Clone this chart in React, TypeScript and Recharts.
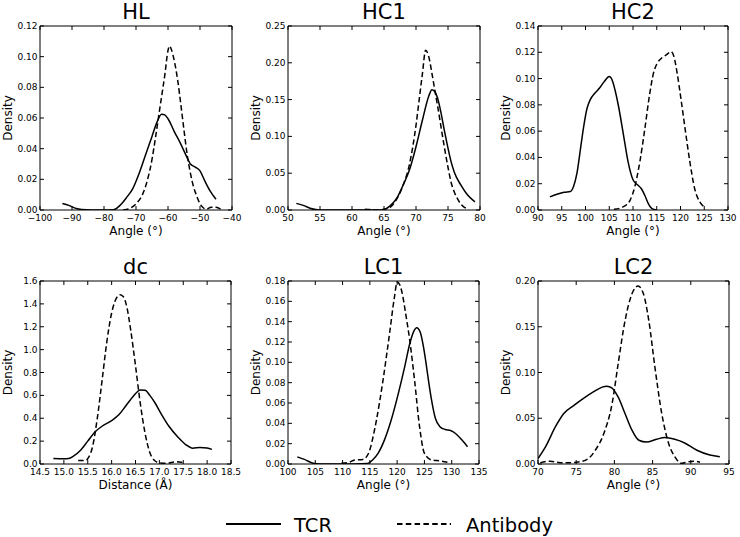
import React from 'react';
import { LineChart, Line, XAxis, YAxis, ReferenceArea } from 'recharts';

type Pt = [number, number];

// HL
const HL_TCR: Pt[] = [
  [-93, 0.0043], [-91, 0.003], [-89, 0.0012], [-87, 0.0003], [-84, 0], [-80, 0], [-77, 0.0002],
  [-75, 0.003], [-73, 0.008], [-71, 0.014], [-69, 0.024], [-67, 0.036], [-65, 0.048], [-63.5, 0.057],
  [-62, 0.0625], [-61, 0.062], [-60, 0.0595], [-58, 0.051], [-56, 0.043], [-54, 0.034], [-53, 0.03],
  [-51.5, 0.028], [-50, 0.0255], [-48.5, 0.019], [-47, 0.013], [-45, 0.007],
];
const HL_AB: Pt[] = [
  [-74, 0], [-72, 0.001], [-70, 0.004], [-68, 0.01], [-66.5, 0.019], [-65, 0.033], [-64, 0.046],
  [-63, 0.06], [-62, 0.074], [-61, 0.088], [-60, 0.104], [-59.5, 0.107], [-59, 0.105], [-58, 0.097],
  [-57, 0.085], [-56, 0.069], [-55, 0.052], [-54, 0.036], [-53, 0.024], [-52, 0.015], [-51, 0.009],
  [-50, 0.004], [-49, 0.0015], [-48, 0.0005], [-46.5, 0.0018], [-45, 0.0018], [-43.5, 0.0005],
];
const HL_X_TICKS = [-100, -90, -80, -70, -60, -50, -40];
const HL_Y_TICKS = [0, 0.02, 0.04, 0.06, 0.08, 0.1, 0.12];

// HC1
const HC1_TCR: Pt[] = [
  [51.3, 0.009], [52.5, 0.006], [53.6, 0.002], [55, 0], [60, 0], [64, 0], [65, 0.0008], [66, 0.006],
  [67, 0.016], [68, 0.034], [69, 0.055], [70, 0.086], [71, 0.122], [72, 0.155], [72.5, 0.1635],
  [73, 0.16], [73.5, 0.148], [74, 0.128], [74.5, 0.105], [75, 0.084], [75.5, 0.065], [76, 0.051],
  [77, 0.034], [78, 0.021], [79.2, 0.011],
];
const HC1_AB: Pt[] = [
  [62, 0.001], [63, 0.0005], [64, 0], [65, 0.001], [66, 0.004], [67, 0.015], [68, 0.034], [69, 0.063],
  [70, 0.115], [70.5, 0.15], [71, 0.185], [71.5, 0.217], [72, 0.208], [72.5, 0.185], [73, 0.16],
  [73.5, 0.135], [74, 0.108], [74.5, 0.082], [75, 0.058], [75.5, 0.037], [76, 0.024], [76.5, 0.015],
  [77, 0.008], [77.5, 0.004], [78, 0.002],
];
const HC1_X_TICKS = [50, 55, 60, 65, 70, 75, 80];
const HC1_Y_TICKS = [0, 0.05, 0.1, 0.15, 0.2, 0.25];

// HC2
const HC2_TCR: Pt[] = [
  [92.5, 0.01], [94, 0.012], [95.5, 0.0135], [96.8, 0.014], [97.5, 0.018], [98.2, 0.028], [99, 0.048],
  [99.6, 0.063], [100.3, 0.077], [101, 0.084], [102, 0.089], [103, 0.093], [104, 0.098], [105, 0.1015],
  [105.7, 0.098], [106.3, 0.09], [107, 0.078], [108, 0.057], [109, 0.036], [110, 0.023], [111, 0.019],
  [111.8, 0.016], [112.5, 0.011], [113.2, 0.005], [114, 0.001], [115, 0],
];
const HC2_AB: Pt[] = [
  [106, 0.0005], [108, 0.0025], [109.4, 0.0075], [110.4, 0.018], [111.5, 0.038], [112.5, 0.062],
  [113.5, 0.088], [114.3, 0.104], [115, 0.111], [116, 0.1155], [117, 0.118], [118, 0.1205],
  [118.6, 0.117], [119.3, 0.104], [120, 0.087], [121, 0.061], [122, 0.036], [123, 0.016],
  [124, 0.0065], [125, 0.0025],
];
const HC2_X_TICKS = [90, 95, 100, 105, 110, 115, 120, 125, 130];
const HC2_Y_TICKS = [0, 0.02, 0.04, 0.06, 0.08, 0.1, 0.12, 0.14];

// dc
const DC_TCR: Pt[] = [
  [14.78, 0.049], [15.0, 0.046], [15.1, 0.048], [15.2, 0.068], [15.35, 0.12], [15.5, 0.2],
  [15.65, 0.28], [15.8, 0.33], [16.0, 0.38], [16.15, 0.43], [16.3, 0.51], [16.45, 0.59],
  [16.6, 0.648], [16.7, 0.645], [16.8, 0.6], [16.9, 0.54], [17.05, 0.43], [17.2, 0.33],
  [17.4, 0.23], [17.55, 0.17], [17.7, 0.138], [17.85, 0.145], [18.0, 0.14], [18.1, 0.128],
];
const DC_AB: Pt[] = [
  [15.3, 0.03], [15.45, 0.03], [15.52, 0.06], [15.6, 0.15], [15.7, 0.4], [15.8, 0.73], [15.9, 1.07],
  [16.0, 1.32], [16.1, 1.45], [16.18, 1.48], [16.25, 1.46], [16.32, 1.37], [16.4, 1.17], [16.5, 0.86],
  [16.6, 0.53], [16.7, 0.27], [16.8, 0.1], [16.9, 0.03], [17.0, 0.01], [17.15, 0.006], [17.35, 0.02],
  [17.5, 0.012],
];
const DC_X_TICKS = [14.5, 15, 15.5, 16, 16.5, 17, 17.5, 18, 18.5];
const DC_Y_TICKS = [0, 0.2, 0.4, 0.6, 0.8, 1.0, 1.2, 1.4, 1.6];

// LC1
const LC1_TCR: Pt[] = [
  [101.7, 0.007], [103, 0.0045], [104.6, 0.0008], [106, 0], [110, 0], [114.5, 0.0005], [115.5, 0.004],
  [116.5, 0.0105], [117.7, 0.024], [118.9, 0.043], [120.2, 0.069], [121.4, 0.096], [122.3, 0.118],
  [123, 0.13], [123.6, 0.134], [124.2, 0.13], [124.8, 0.116], [125.3, 0.099], [125.8, 0.08],
  [126.3, 0.063], [127, 0.045], [127.8, 0.037], [128.8, 0.034], [129.8, 0.033], [130.7, 0.03],
  [131.8, 0.024], [132.9, 0.017],
];
const LC1_AB: Pt[] = [
  [109.8, 0.0007], [111, 0.0013], [112.2, 0.004], [113.7, 0.0045], [114.5, 0.008], [115, 0.014],
  [115.6, 0.027], [116.2, 0.043], [117.4, 0.082], [118.6, 0.128], [119.5, 0.164], [120, 0.179],
  [120.5, 0.176], [121, 0.166], [121.5, 0.15], [122.3, 0.122], [123.2, 0.082], [124.1, 0.037],
  [125, 0.0105], [126.3, 0.004], [128, 0.003], [129.3, 0.0016],
];
const LC1_X_TICKS = [100, 105, 110, 115, 120, 125, 130, 135];
const LC1_Y_TICKS = [0, 0.02, 0.04, 0.06, 0.08, 0.1, 0.12, 0.14, 0.16, 0.18];

// LC2
const LC2_TCR: Pt[] = [
  [70, 0.006], [71, 0.019], [72.3, 0.041], [73.35, 0.055], [74.7, 0.064], [76, 0.072], [77.3, 0.079],
  [78.4, 0.084], [79, 0.085], [79.7, 0.083], [80.5, 0.073], [81.4, 0.055], [82.3, 0.037], [83.2, 0.026],
  [84.2, 0.024], [85.5, 0.027], [86.6, 0.029], [87.9, 0.027], [89.2, 0.023], [90.8, 0.015],
  [92.5, 0.0098], [93.8, 0.008],
];
const LC2_AB: Pt[] = [
  [70.3, 0.0015], [71.6, 0.003], [72.9, 0.0015], [74.2, 0.0015], [75.5, 0.0025], [76.6, 0.006],
  [77.5, 0.015], [78.6, 0.033], [79.7, 0.066], [80.5, 0.11], [81.4, 0.157], [82.3, 0.186],
  [83.1, 0.1945], [83.8, 0.186], [84.5, 0.157], [85.3, 0.106], [86.2, 0.055], [87.1, 0.0225],
  [87.9, 0.008], [88.8, 0.0007], [89.7, 0.0025], [90.6, 0.003], [91.2, 0.002],
];
const LC2_X_TICKS = [70, 75, 80, 85, 90, 95];
const LC2_Y_TICKS = [0, 0.05, 0.1, 0.15, 0.2];

const FONT = '"DejaVu Sans", sans-serif';
const AXIS_W = 40;
const TOP_PAD = 10;
const AXIS_H = 30;
const RIGHT_PAD = 12;

const minus = (v: number) => (v < 0 ? '\u2212' + Math.abs(v) : String(v));

const panels = [
  { title: 'HL', xLabel: 'Angle (\u00b0)', left: 40, top: 26, w: 192, h: 184, tcr: HL_TCR, ab: HL_AB,
    xTicks: HL_X_TICKS, yTicks: HL_Y_TICKS, fx: minus, fy: (v: number) => v.toFixed(2) },
  { title: 'HC1', xLabel: 'Angle (\u00b0)', left: 288, top: 26, w: 192, h: 184, tcr: HC1_TCR, ab: HC1_AB,
    xTicks: HC1_X_TICKS, yTicks: HC1_Y_TICKS, fx: String, fy: (v: number) => v.toFixed(2) },
  { title: 'HC2', xLabel: 'Angle (\u00b0)', left: 538, top: 26, w: 190, h: 184, tcr: HC2_TCR, ab: HC2_AB,
    xTicks: HC2_X_TICKS, yTicks: HC2_Y_TICKS, fx: String, fy: (v: number) => v.toFixed(2) },
  { title: 'dc', xLabel: 'Distance (\u00c5)', left: 40, top: 281, w: 191, h: 183, tcr: DC_TCR, ab: DC_AB,
    xTicks: DC_X_TICKS, yTicks: DC_Y_TICKS, fx: (v: number) => v.toFixed(1), fy: (v: number) => v.toFixed(1) },
  { title: 'LC1', xLabel: 'Angle (\u00b0)', left: 288, top: 281, w: 191, h: 183, tcr: LC1_TCR, ab: LC1_AB,
    xTicks: LC1_X_TICKS, yTicks: LC1_Y_TICKS, fx: String, fy: (v: number) => v.toFixed(2) },
  { title: 'LC2', xLabel: 'Angle (\u00b0)', left: 538, top: 281, w: 191, h: 183, tcr: LC2_TCR, ab: LC2_AB,
    xTicks: LC2_X_TICKS, yTicks: LC2_Y_TICKS, fx: String, fy: (v: number) => v.toFixed(2) },
];

const toRows = (pts: Pt[]) => pts.map(([x, y]) => ({ x, y }));

function Panel({ p }: { p: (typeof panels)[number] }) {
  const plotTop = TOP_PAD;
  const plotBottom = TOP_PAD + p.h;
  const plotLeft = AXIS_W;
  const plotRight = AXIS_W + p.w;
  const xDomain = [p.xTicks[0], p.xTicks[p.xTicks.length - 1]];
  const yDomain = [p.yTicks[0], p.yTicks[p.yTicks.length - 1]];

  // matplotlib-style ticks: inward on both sides, labels outside
  const XTick = (props: any) => {
    const { x, payload } = props;
    return (
      <g>
        <line x1={x} x2={x} y1={plotBottom} y2={plotBottom - 4} stroke="#000" />
        <line x1={x} x2={x} y1={plotTop} y2={plotTop + 4} stroke="#000" />
        <text x={x} y={plotBottom + 11} textAnchor="middle" fontSize={9} fontFamily={FONT} fill="#000">
          {p.fx(payload.value)}
        </text>
      </g>
    );
  };

  const YTick = (props: any) => {
    const { y, payload } = props;
    return (
      <g>
        <line x1={plotLeft} x2={plotLeft + 4} y1={y} y2={y} stroke="#000" />
        <line x1={plotRight} x2={plotRight - 4} y1={y} y2={y} stroke="#000" />
        <text x={plotLeft - 2.5} y={y + 3} textAnchor="end" fontSize={9} fontFamily={FONT} fill="#000">
          {p.fy(payload.value)}
        </text>
      </g>
    );
  };

  return (
    <div style={{ position: 'absolute', left: p.left - AXIS_W, top: p.top - TOP_PAD }}>
      <LineChart
        width={AXIS_W + p.w + RIGHT_PAD}
        height={TOP_PAD + p.h + AXIS_H}
        margin={{ top: TOP_PAD, right: RIGHT_PAD, bottom: 0, left: 0 }}
      >
        <XAxis
          dataKey="x"
          type="number"
          domain={xDomain}
          ticks={p.xTicks}
          interval={0}
          tick={XTick}
          tickLine={false}
          axisLine={false}
          height={AXIS_H}
          allowDataOverflow
        />
        <YAxis
          type="number"
          domain={yDomain}
          ticks={p.yTicks}
          interval={0}
          tick={YTick}
          tickLine={false}
          axisLine={false}
          width={AXIS_W}
          allowDataOverflow
        />
        <ReferenceArea
          x1={xDomain[0]}
          x2={xDomain[1]}
          y1={yDomain[0]}
          y2={yDomain[1]}
          fill="none"
          stroke="#000"
          strokeWidth={1}
        />
        <Line
          data={toRows(p.tcr)}
          dataKey="y"
          type="monotone"
          stroke="#000"
          strokeWidth={1.5}
          dot={false}
          isAnimationActive={false}
        />
        <Line
          data={toRows(p.ab)}
          dataKey="y"
          type="monotone"
          stroke="#000"
          strokeWidth={1.5}
          strokeDasharray="5.5 3"
          dot={false}
          isAnimationActive={false}
        />
      </LineChart>
    </div>
  );
}

export default function App() {
  return (
    <div style={{ position: 'absolute', left: 0, top: 0, width: 740, height: 537, background: '#fff' }}>
      {panels.map((p) => (
        <Panel key={p.title} p={p} />
      ))}
      <svg width={740} height={537} style={{ position: 'absolute', left: 0, top: 0, pointerEvents: 'none' }}>
        {panels.map((p) => (
          <g key={p.title} fontFamily={FONT} fill="#000">
            <text x={p.left + p.w / 2} y={p.top - 7} textAnchor="middle" fontSize={21}>
              {p.title}
            </text>
            <text x={p.left + p.w / 2} y={p.top + p.h + 25} textAnchor="middle" fontSize={12}>
              {p.xLabel}
            </text>
            <text
              x={p.left - 28.5}
              y={p.top + p.h / 2}
              textAnchor="middle"
              fontSize={12}
              transform={`rotate(-90 ${p.left - 28.5} ${p.top + p.h / 2})`}
            >
              Density
            </text>
          </g>
        ))}
        <g fontFamily={FONT} fill="#000">
          <line x1={226} x2={281} y1={524} y2={524} stroke="#000" strokeWidth={2} />
          <text x={294} y={531.5} fontSize={19.5}>TCR</text>
          <line x1={397} x2={451} y1={524} y2={524} stroke="#000" strokeWidth={2} strokeDasharray="5.5 3.3" />
          <text x={466} y={531.5} fontSize={19.5}>Antibody</text>
        </g>
      </svg>
    </div>
  );
}
